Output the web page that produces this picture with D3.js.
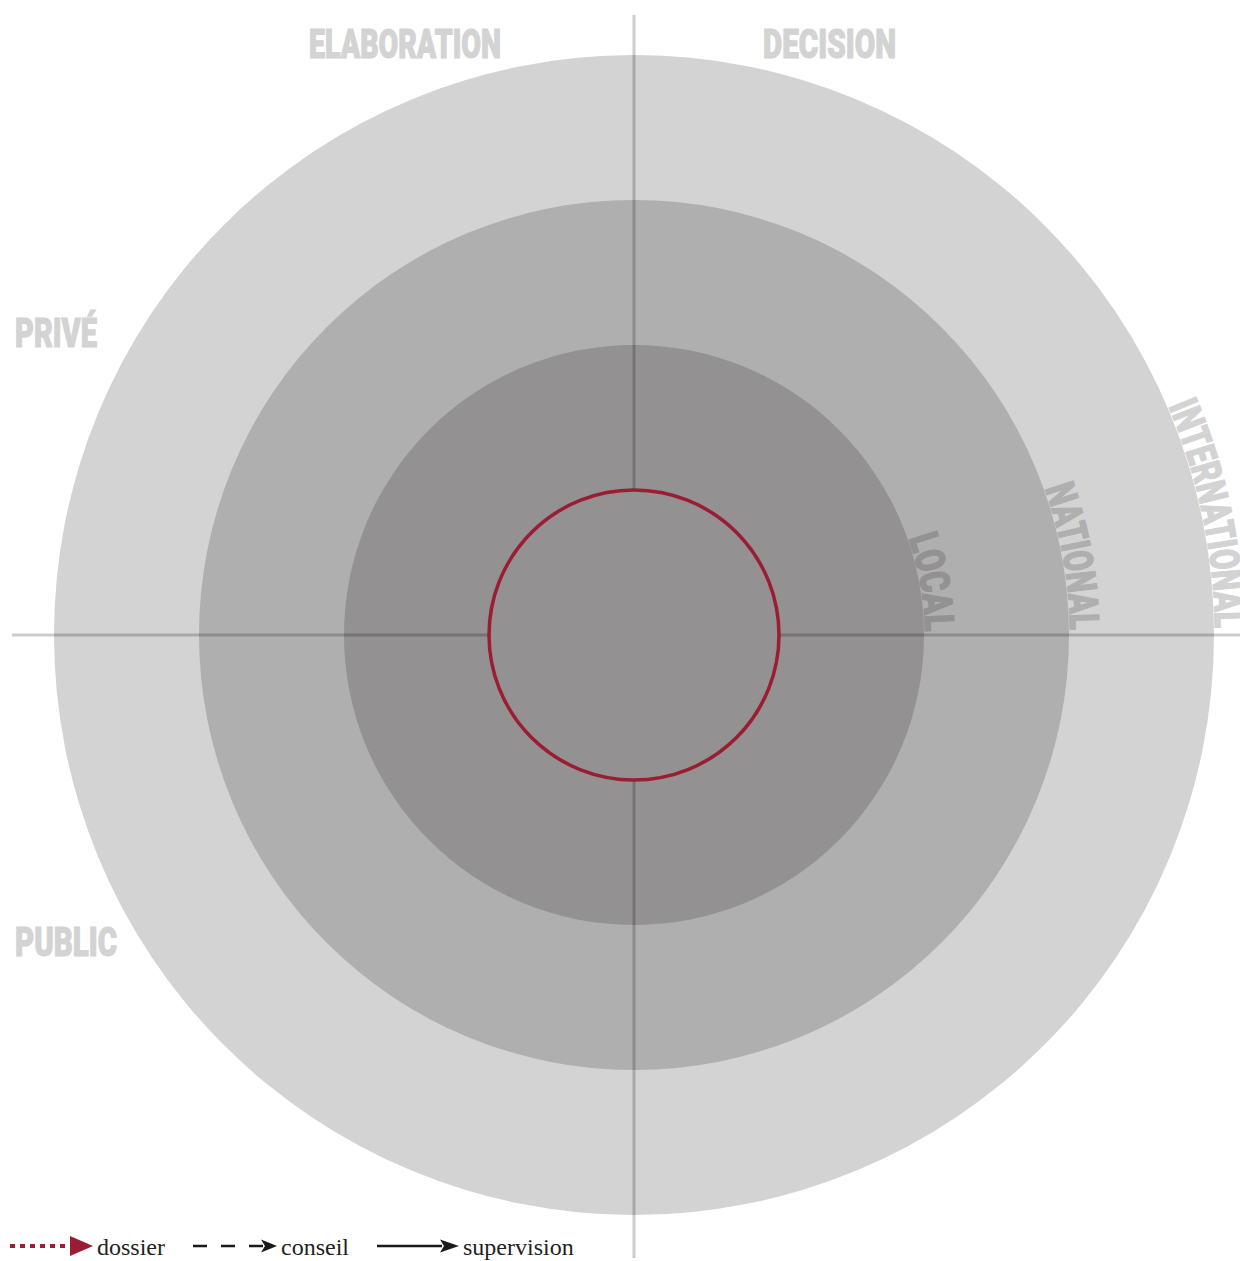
<!DOCTYPE html>
<html>
<head>
<meta charset="utf-8">
<script src="https://cdn.jsdelivr.net/npm/d3@7"></script>
<style>
    html, body { margin: 0; padding: 0; background: #fff; }
    svg { display: block; }
</style>
</head>
<body>
<svg id="workspace" width="1240" height="1261"></svg>
<script>
/*
 * Concentric levels diagram (local / national / international)
 */

// ring levels, from the centre outwards
var ringLabels = ["LOCAL", "NATIONAL", "INTERNATIONAL"];
var ringLevels = [2, 3, 4];
var ringColors = ["#939192", "#afafaf", "#d3d3d3"];
var coreLevel = 1;

// quadrant labels
var topLabels = ["ELABORATION", "DECISION"];
var sideLabels = ["PRIVÉ", "PUBLIC"];

// legend
var legendLabels = ["dossier", "conseil", "supervision"];
var legendStyles = ["dotted", "dashed", "solid"];

var WIDTH = 1240, HEIGHT = 1261;
var CX = 634, CY = 635;
var LABEL_GREY = "#d3d3d3";
var RED = "#9b1d32";
var LABEL_FONT = "Roboto, 'Liberation Sans', sans-serif";

var svg = d3.select("#workspace");
var defs = svg.append("defs");

var r = d3.scaleLinear().domain([0, 4]).range([0, 580]);

/**
 * Draw the filled rings, biggest first
 */
function drawRings() {
    var order = d3.range(ringLevels.length).reverse();
    svg.append("g").selectAll("circle")
        .data(order)
        .join("circle")
        .attr("cx", CX)
        .attr("cy", CY)
        .attr("r", function (i) { return r(ringLevels[i]); })
        .style("fill", function (i) { return ringColors[i]; });
}

/**
 * Draw the two axes crossing the rings
 */
function drawAxes() {
    var g = svg.append("g").style("stroke", "#000").style("stroke-opacity", 0.2).style("stroke-width", 3);
    g.append("line").attr("x1", CX).attr("x2", CX).attr("y1", 15).attr("y2", 1258);
    g.append("line").attr("x1", 12).attr("x2", WIDTH).attr("y1", CY).attr("y2", CY);
}

/**
 * Draw the red core circle, hiding the axes under it
 */
function drawCore() {
    svg.append("circle")
        .attr("cx", CX)
        .attr("cy", CY)
        .attr("r", r(coreLevel))
        .style("fill", ringColors[0])
        .style("stroke", RED)
        .style("stroke-width", 3.5);
}

/**
 * Ring names written along each ring, ending on the horizontal axis
 */
function drawRingLabels() {
    var endAngle = -0.012;
    var lengths = [95, 144, 228];
    ringLabels.forEach(function (name, i) {
        var rad = r(ringLevels[i]) + 1;
        var x0 = CX, y0 = CY - rad;
        var x1 = CX + rad * Math.cos(endAngle), y1 = CY + rad * Math.sin(endAngle);
        defs.append("path")
            .attr("id", "arc-" + i)
            .attr("d", "M" + x0 + "," + y0 + " A" + rad + "," + rad + " 0 0 1 " + x1 + "," + y1);

        var text = svg.append("text")
            .style("font-family", LABEL_FONT)
            .style("font-weight", 900)
            .style("font-size", "41px")
            .style("fill", ringColors[i])
            .style("stroke", ringColors[i])
            .style("stroke-width", 1.2)
            .attr("textLength", lengths[i])
            .attr("lengthAdjust", "spacingAndGlyphs");
        text.append("textPath")
            .attr("href", "#arc-" + i)
            .attr("startOffset", "100%")
            .attr("text-anchor", "end")
            .attr("textLength", lengths[i])
            .attr("lengthAdjust", "spacingAndGlyphs")
            .text(name);
    });
}

/**
 * Straight quadrant labels
 */
function drawQuadrantLabels() {
    var items = [
        { text: topLabels[0], x: 309, y: 58, w: 192 },
        { text: topLabels[1], x: 763, y: 58, w: 133 },
        { text: sideLabels[0], x: 15, y: 347, w: 82 },
        { text: sideLabels[1], x: 15, y: 956, w: 102 }
    ];
    svg.append("g").selectAll("text")
        .data(items)
        .join("text")
        .attr("x", function (d) { return d.x; })
        .attr("y", function (d) { return d.y; })
        .attr("textLength", function (d) { return d.w; })
        .attr("lengthAdjust", "spacingAndGlyphs")
        .style("font-family", LABEL_FONT)
        .style("font-weight", 900)
        .style("font-size", "41px")
        .style("fill", LABEL_GREY)
        .style("stroke", LABEL_GREY)
        .style("stroke-width", 1.2)
        .text(function (d) { return d.text; });
}

/**
 * Legend with the three arrow styles
 */
function drawLegend() {
    var y = 1246;
    var items = [
        { x1: 10, x2: 72, head: 23, h: 20, color: RED, width: 4, dash: "5,5" },
        { x1: 193, x2: 263, head: 16, h: 13, color: "#1a1a1a", width: 2.6, dash: "14,14" },
        { x1: 377, x2: 442, head: 19, h: 13, color: "#1a1a1a", width: 2.6, dash: null }
    ];
    var g = svg.append("g");
    items.forEach(function (d, i) {
        g.append("line")
            .attr("x1", d.x1).attr("x2", d.x2)
            .attr("y1", y).attr("y2", y)
            .style("stroke", d.color)
            .style("stroke-width", d.width)
            .style("stroke-dasharray", d.dash);
        var bx = d.x2 - 2, tip = bx + d.head;
        g.append("path")
            .attr("d", "M" + bx + "," + (y - d.h / 2) + " L" + tip + "," + y + " L" + bx + "," + (y + d.h / 2) +
                (i === 0 ? "" : " L" + (bx + 4) + "," + y) + " Z")
            .style("fill", d.color);
        g.append("text")
            .attr("x", tip + 4)
            .attr("y", 1255)
            .style("font-family", "'Liberation Serif', 'DejaVu Serif', serif")
            .style("font-size", "24px")
            .style("fill", "#231f20")
            .text(legendLabels[i]);
    });
}

drawRings();
drawAxes();
drawCore();
drawRingLabels();
drawQuadrantLabels();
drawLegend();
</script>
</body>
</html>
